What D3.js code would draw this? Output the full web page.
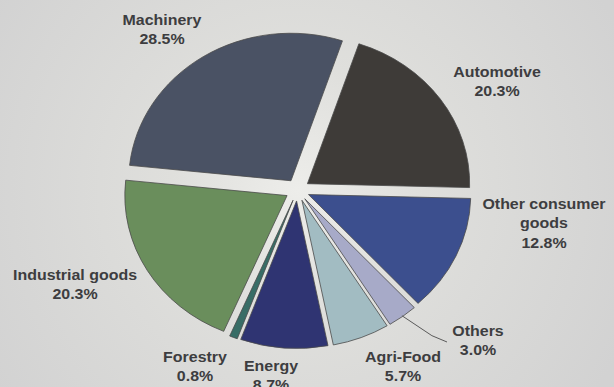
<!DOCTYPE html>
<html>
<head>
<meta charset="utf-8">
<script src="https://cdn.jsdelivr.net/npm/d3@7"></script>
<style>
    body { margin: 0; background: #d6d6d5; }
    .label { font-family: "Liberation Sans", Arial, sans-serif; font-weight: bold; font-size: 14.5px; fill: #3d3d40; }
    .slice { stroke: #4a4a4a; stroke-width: 0.8; }
    .leader { fill: none; stroke: #5a5a5a; stroke-width: 1; }
</style>
</head>
<body>
<div id="chart"></div>
<script>

var categories = ["Machinery", "Automotive", "Other consumer goods", "Others", "Agri-Food", "Energy", "Forestry", "Industrial goods"];
var shares = [28.5, 20.3, 12.8, 3.0, 5.7, 8.7, 0.8, 20.3];
var labelLines = [["Machinery"], ["Automotive"], ["Other consumer", "goods"], ["Others"], ["Agri-Food"], ["Energy"], ["Forestry"], ["Industrial goods"]];
var colors = ["#4a5264", "#3e3b38", "#3c4f8e", "#a7aac8", "#a2bcc2", "#2f3472", "#386d66", "#6a8e5c"];

// layout (pixel positions of the label blocks: centre x, first baseline)
var width = 614, height = 387
    , cx = 297.5, cy = 190
    , radius = 147.5
    , stretch = 1.1
    , explode = 11
    , lineHeight = 19.5
    , labelPos = {
        "Machinery": [162, 25],
        "Automotive": [497, 77],
        "Other consumer goods": [544, 209],
        "Others": [478, 336],
        "Agri-Food": [403, 362],
        "Energy": [271, 371],
        "Forestry": [195, 362],
        "Industrial goods": [75, 280]
    };

var svg = d3.select("#chart")
    .append("svg")
    .attr("width", width)
    .attr("height", height);

var grad = svg.append("defs")
    .append("radialGradient")
    .attr("id", "paper")
    .attr("gradientUnits", "userSpaceOnUse")
    .attr("cx", cx).attr("cy", cy).attr("r", 360);
grad.append("stop").attr("offset", "0").attr("stop-color", "#ededea");
grad.append("stop").attr("offset", "0.35").attr("stop-color", "#dfdfdc");
grad.append("stop").attr("offset", "1").attr("stop-color", "#d2d2d2");

svg.append("rect")
    .attr("width", width)
    .attr("height", height)
    .attr("fill", "url(#paper)");

var data = categories.map(function(c, i) {
    return {name: c, value: shares[i], color: colors[i], lines: labelLines[i]};
});

var pie = d3.pie()
    .sort(null)
    .value(function(d) { return d.value; })
    .startAngle(-84 * Math.PI / 180)
    .endAngle(276 * Math.PI / 180);

var arc = d3.arc()
    .innerRadius(0)
    .outerRadius(radius);

var arcs = pie(data);

function shift(d, r) {
    var a = (d.startAngle + d.endAngle) / 2;
    return [Math.sin(a) * r, -Math.cos(a) * r];
}

var g = svg.append("g")
    .attr("transform", "translate(" + cx + "," + cy + ") scale(" + stretch + ",1)");

g.selectAll("path.slice")
    .data(arcs)
    .enter()
    .append("path")
    .attr("class", "slice")
    .attr("vector-effect", "non-scaling-stroke")
    .attr("fill", function(d) { return d.data.color; })
    .attr("transform", function(d) { return "translate(" + shift(d, explode) + ")"; })
    .attr("d", arc);

// leader line for the thin "Others" slice
var others = arcs[categories.indexOf("Others")];
var p0 = shift(others, radius + explode - 1);
var start = [cx + p0[0] * stretch, cy + p0[1]];
var lp = labelPos["Others"];
svg.append("path")
    .attr("class", "leader")
    .attr("d", d3.line()([start, [start[0] + 30, start[1] + 20], [lp[0] - 31, lp[1] + 6]]));

var labels = svg.selectAll("g.label")
    .data(arcs)
    .enter()
    .append("g")
    .attr("class", "label")
    .attr("transform", function(d) {
        var p = labelPos[d.data.name];
        return "translate(" + p[0] + "," + p[1] + ") scale(" + stretch + ",1)";
    });

labels.append("text")
    .attr("text-anchor", "middle")
    .selectAll("tspan")
    .data(function(d) { return d.data.lines.concat([d3.format(".1f")(d.data.value) + "%"]); })
    .enter()
    .append("tspan")
    .attr("x", 0)
    .attr("y", function(t, i) { return i * lineHeight; })
    .text(function(t) { return t; });

</script>
</body>
</html>
